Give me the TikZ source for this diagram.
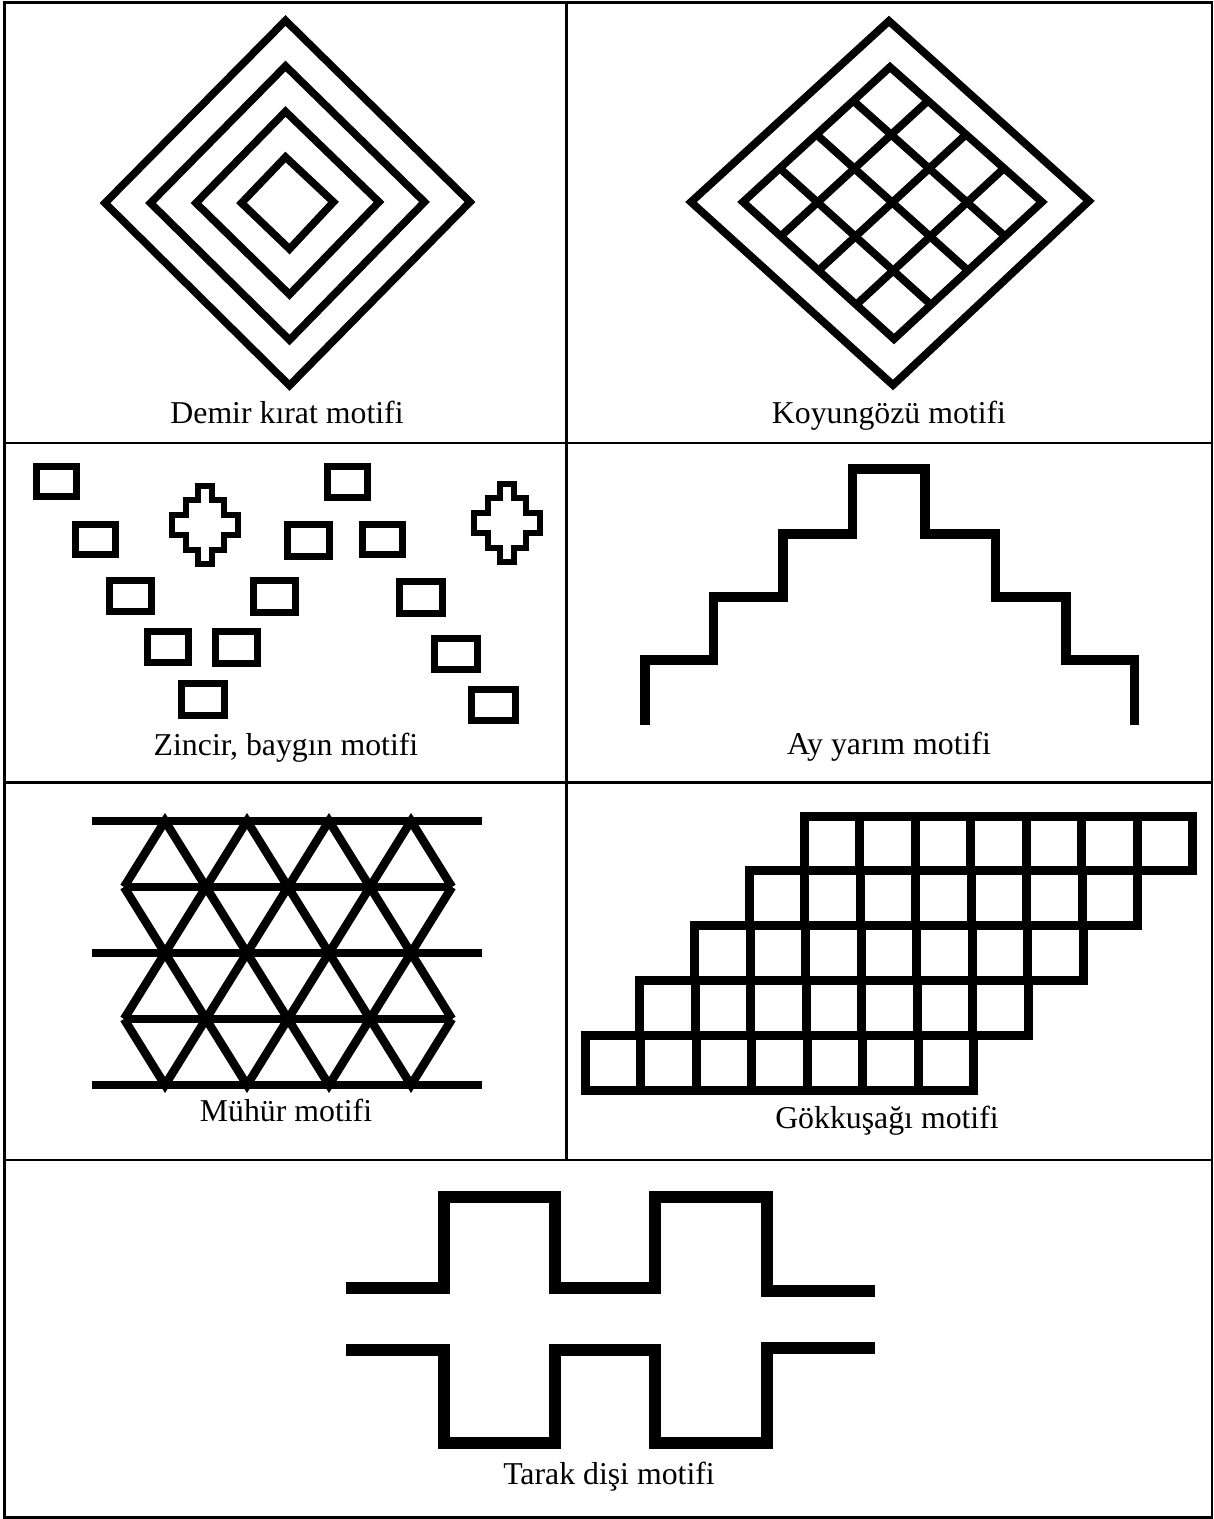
\documentclass[tikz,border=0pt]{standalone}
\usepackage{fontspec}
\setmainfont{Liberation Serif}
\usetikzlibrary{calc}
\begin{document}
\begin{tikzpicture}[x=1pt,y=-1pt,
  frame/.style={line width=2.5pt,line cap=rect},
  caption/.style={font=\fontsize{31.8}{38}\selectfont,inner sep=0pt,anchor=base},
  dk/.style={line width=7.6pt,line join=miter},
  ko/.style={line width=7.8pt,line join=miter},
  zr/.style={line width=7pt,line join=miter},
  zc/.style={line width=5.2pt,line join=miter},
  ay/.style={line width=9.5pt,line join=miter},
  mh/.style={line width=8.5pt,line join=miter},
  gk/.style={line width=9pt,line join=miter},
  td/.style={line width=12pt,line join=miter},
  stepcross/.pic={
    \draw[zc] (-7,-39) -- (7,-39) -- (7,-25) -- (19,-25) -- (19,-10) -- (33,-10) -- (33,10) -- (19,10) -- (19,25) -- (7,25) -- (7,39) -- (-7,39) -- (-7,25) -- (-19,25) -- (-19,10) -- (-33,10) -- (-33,-10) -- (-19,-10) -- (-19,-25) -- (-7,-25) -- cycle;
  }]
\useasboundingbox (0,0) rectangle (1214,1519);
\fill[white] (0,0) rectangle (1214,1519);

% ---------- table frame ----------
\draw[frame] (4.5,2.5) rectangle (1212,1517.5);
\draw[frame] (566.7,2.5) -- (566.7,1160);
\draw[frame] (4.5,442.8) -- (1212,442.8);
\draw[frame] (4.5,782.3) -- (1212,782.3);
\draw[frame] (4.5,1160) -- (1212,1160);

% ---------- Demir kirat ----------
\foreach \r in {182.5,137,91.5,46}
  \draw[dk] (287.5-\r,203) -- (285.5,203-\r) -- (287.5+\r,202) -- (289.5,203+\r) -- cycle;
\node[caption] (c1) at (287,423) {Demir kırat motifi};

% ---------- Koyungozu ----------
\draw[ko] (691,202) -- (889,21) -- (1089,201) -- (893,385) -- cycle;
\coordinate (kT) at (890,67);
\coordinate (kL) at (743,202);
\coordinate (kR) at (1042,202);
\coordinate (kB) at (894,339);
\draw[ko] (kT) -- (kR) -- (kB) -- (kL) -- cycle;
\foreach \k in {0.25,0.5,0.75}{
  \draw[ko] ($(kT)!\k!(kL)$) -- ($(kR)!\k!(kB)$);
  \draw[ko] ($(kT)!\k!(kR)$) -- ($(kL)!\k!(kB)$);
}
\node[caption] (c2) at (889,423) {Koyungözü motifi};

% ---------- Zincir, baygin ----------
\draw[zr] (36,466.2) rectangle (76.9,496.5);
\draw[zr] (75.1,524.2) rectangle (115.9,554.8);
\draw[zr] (109.9,580.2) rectangle (151.5,611.5);
\draw[zr] (147.8,631.2) rectangle (188.6,662.5);
\draw[zr] (215.1,631.8) rectangle (257.9,663.2);
\draw[zr] (181.5,683.5) rectangle (224.2,715.8);
\draw[zr] (327.6,466.8) rectangle (367.7,497.5);
\draw[zr] (287.8,524.2) rectangle (329.5,556.5);
\draw[zr] (362.1,524.2) rectangle (402.9,554.8);
\draw[zr] (253,580.2) rectangle (295,612.5);
\draw[zr] (399.7,581.8) rectangle (442.3,613.2);
\draw[zr] (434.8,638.5) rectangle (477.5,669.2);
\draw[zr] (471.1,689.5) rectangle (515.1,720.8);
\pic at (205,525) {stepcross};
\pic at (507,523) {stepcross};
\node[caption] (c3) at (286,755) {Zincir, baygın motifi};

% ---------- Ay yarim ----------
\draw[ay] (645,725) -- (645,660) -- (713.5,660) -- (713.5,597) -- (783,597) -- (783,534) -- (852.5,534) -- (852.5,469) -- (925,469) -- (925,534) -- (995.5,534) -- (995.5,597) -- (1066,597) -- (1066,660) -- (1134.5,660) -- (1134.5,725);
\node[caption] (c4) at (889,754) {Ay yarım motifi};

% ---------- Muhur ----------
\foreach \y in {821,953,1085} \draw[mh] (92,\y) -- (482,\y);
\foreach \y in {887,1019} \draw[mh] (124,\y) -- (452,\y);
\foreach \ya/\yb in {887/821,887/953,1019/953,1019/1085}
  \draw[mh] (124,\ya) -- (165,\yb) -- (206,\ya) -- (247,\yb) -- (288,\ya) -- (329,\yb) -- (370,\ya) -- (411,\yb) -- (452,\ya);
\node[caption] (c5) at (286,1121) {Mühür motifi};

% ---------- Gokkusagi ----------
\foreach \r in {0,...,4}{
  \foreach \c in {0,...,6}{
    \draw[gk] (804-54.75*\r+55.5*\c, 816+54.8*\r) rectangle ++(55.5,54.8);
  }
}
\node[caption] (c6) at (887,1128) {Gökkuşağı motifi};

% ---------- Tarak disi ----------
\draw[td] (345.5,1288) -- (444,1288) -- (444,1197) -- (555,1197) -- (555,1288) -- (655,1288) -- (655,1197) -- (766.5,1197) -- (766.5,1291) -- (875,1291);
\draw[td] (345.5,1350) -- (444,1350) -- (444,1443) -- (555,1443) -- (555,1350) -- (655,1350) -- (655,1443) -- (766.5,1443) -- (766.5,1348) -- (875,1348);
\node[caption] (c7) at (609,1484) {Tarak dişi motifi};
\end{tikzpicture}
\end{document}
